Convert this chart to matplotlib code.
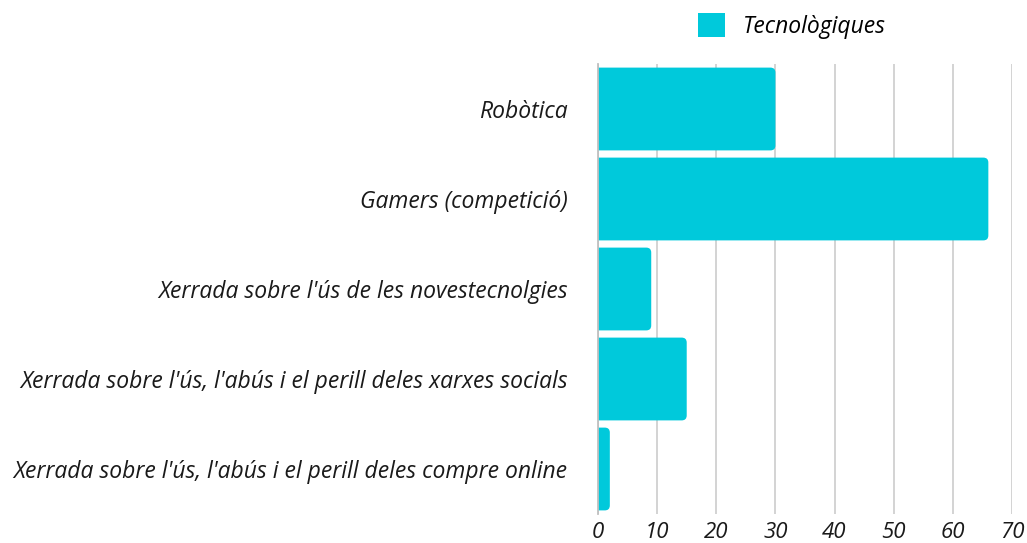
import matplotlib
matplotlib.use("Agg")
import matplotlib.pyplot as plt
from matplotlib.patches import FancyBboxPatch, Patch

categories = [
    "Robòtica",
    "Gamers (competició)",
    "Xerrada sobre l'ús de les novestecnolgies",
    "Xerrada sobre l'ús, l'abús i el perill deles xarxes socials",
    "Xerrada sobre l'ús, l'abús i el perill deles compre online",
]
values = [30, 66, 9, 15, 2]
series_name = "Tecnològiques"
xticks = [0, 10, 20, 30, 40, 50, 60, 70]

color = "#00C9DB"
plt.rcParams['font.family'] = ['Open Sans', 'DejaVu Sans']

fig = plt.figure(figsize=(10.27, 5.43), dpi=100)
ax = fig.add_axes([598/1027, 1-514/543, 414/1027, 450/543])

ypos = list(range(len(categories)))
bars = ax.barh(ypos, values, height=0.92, color=color, alpha=0)
ax.set_xlim(0, 70)
ax.set_ylim(len(categories)-0.5, -0.5)

# rounded right corners
px_per_x = 414/70
px_per_y = 450/len(categories)
r_px = 5
rx = r_px/px_per_x
ry = r_px/px_per_y
for b in bars:
    x0 = -2
    w = b.get_width() - x0
    p = FancyBboxPatch((x0, b.get_y()), w, b.get_height(),
                       boxstyle=f"round,pad=0,rounding_size={rx}",
                       mutation_aspect=ry/rx, facecolor=color, edgecolor='none', zorder=3)
    ax.add_patch(p)

ax.set_xticks(xticks)
ax.set_xticklabels([str(t) for t in xticks], fontstyle='italic', fontsize=16, color='#1a1a1a')
ax.set_yticks(ypos)
ax.set_yticklabels(categories, fontstyle='italic', fontsize=16.5, color='#1a1a1a')
ax.tick_params(axis='both', length=0)
ax.tick_params(axis='y', pad=22)
ax.tick_params(axis='x', pad=6)
ax.grid(axis='x', color='#d0d0d0', linewidth=1.3, zorder=0)
ax.set_axisbelow(True)
for s in ['top', 'right', 'bottom']:
    ax.spines[s].set_visible(False)
ax.spines['left'].set_color('#c0c0c0')
ax.spines['left'].set_linewidth(1.3)
ax.spines['left'].set_zorder(4)

fig.legend(handles=[Patch(facecolor=color, edgecolor='none', label=series_name)],
           loc='center', bbox_to_anchor=(792/1027, 1-26/543), frameon=False,
           prop={'style': 'italic', 'size': 16.5}, handlelength=1.2, handleheight=1.2,
           handletextpad=0.8)

fig.savefig("out.png", dpi=100)
